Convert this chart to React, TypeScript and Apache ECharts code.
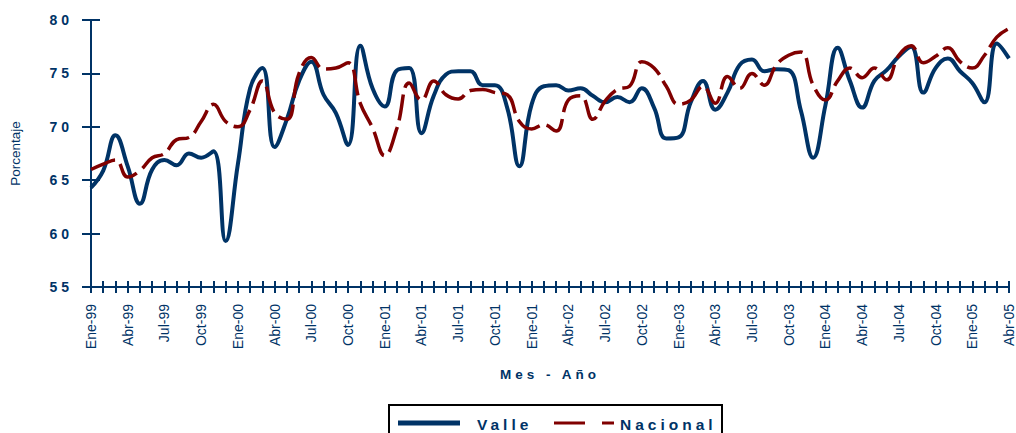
import React, { useEffect, useRef } from "react";
import * as echarts from "echarts";

const monthNames = ["Ene", "Feb", "Mar", "Abr", "May", "Jun", "Jul", "Ago", "Sep", "Oct", "Nov", "Dic"];
const yearSuffixes = ["99", "00", "01", "02", "03", "04", "05"];
const monthCount = 76; // Ene-99 .. Abr-05

const categories: string[] = [];
for (const y of yearSuffixes) {
  for (const m of monthNames) {
    if (categories.length < monthCount) categories.push(`${m}-${y}`);
  }
}

// Tick labels as printed on the reference (every third month)
const tickLabels = [
  "Ene-99", "Abr-99", "Jul-99", "Oct-99",
  "Ene-00", "Abr-00", "Jul-00", "Oct-00",
  "Ene-01", "Abr-01", "Jul-01", "Oct-01",
  "Ene-01", "Abr-02", "Jul-02", "Oct-02",
  "Ene-03", "Abr-03", "Jul-03", "Oct-03",
  "Ene-04", "Abr-04", "Jul-04", "Oct-04",
  "Ene-05", "Abr-05",
];

const valle = [
  64.3, 65.9, 69.2, 66.3, 62.8, 66.0, 66.9, 66.4, 67.5, 67.1, 67.7, 59.3,
  66.5, 73.6, 75.5, 68.1, 70.7, 74.3, 76.1, 73.0, 71.3, 68.3, 77.6, 73.6,
  71.9, 75.3, 75.5, 69.4, 72.9, 74.9, 75.2, 75.2, 73.9, 73.9, 71.8, 66.3,
  72.1, 73.8, 73.9, 73.4, 73.6, 72.9, 72.3, 72.8, 72.3, 73.6, 71.8, 68.9,
  69.0, 72.3, 74.3, 71.6, 73.2, 75.8, 76.3, 75.2, 75.4, 75.3, 71.5, 67.1,
  72.0, 77.4, 74.3, 71.8, 74.3, 75.3, 76.6, 77.5, 73.2, 75.5, 76.4, 75.2,
  74.1, 72.3, 77.8, 76.4,
];

const nacional = [
  66.0, 66.5, 66.9, 65.3, 65.9, 67.1, 67.5, 68.8, 69.0, 70.5, 72.1, 70.5,
  70.0, 71.6, 74.3, 71.3, 70.7, 75.0, 76.5, 75.4, 75.5, 76.0, 72.2, 69.9,
  67.3, 69.9, 74.1, 72.5, 74.3, 73.0, 72.6, 73.4, 73.5, 73.2, 73.0, 70.5,
  69.8, 70.2, 69.6, 72.5, 72.9, 70.7, 72.4, 73.5, 73.8, 76.1, 75.5, 73.8,
  72.1, 72.5, 73.8, 72.2, 74.7, 73.6, 75.0, 73.9, 75.8, 76.7, 77.0, 73.9,
  72.5, 74.3, 75.5, 74.6, 75.5, 74.4, 76.7, 77.6, 76.0, 76.6, 77.4, 76.1,
  75.5, 76.7, 78.4, 79.2,
];

const NAVY = "#003366";
const MAROON = "#800000";
const FONT = "'Liberation Sans', Arial, sans-serif";

export default function App() {
  const ref = useRef<HTMLDivElement>(null);

  useEffect(() => {
    if (!ref.current) return;
    const chart = echarts.init(ref.current, undefined, { renderer: "svg" });
    const tickLine = { color: NAVY, width: 2 };
    chart.setOption({
      animation: false,
      backgroundColor: "#ffffff",
      grid: { left: 90, right: 1, top: 20, bottom: 146, containLabel: false },
      xAxis: [
        {
          type: "category",
          data: categories,
          boundaryGap: false,
          position: "bottom",
          axisLine: { show: true, onZero: false, lineStyle: { color: NAVY, width: 2 } },
          axisTick: { show: true, interval: 0, length: 6, lineStyle: tickLine },
          axisLabel: {
            interval: 2,
            rotate: 90,
            margin: 17,
            color: NAVY,
            fontSize: 14,
            fontFamily: FONT,
            padding: [0, 0, 6, 0],
            formatter: (_v: string, i: number) => tickLabels[Math.round(i / 3)] ?? _v,
          },
          splitLine: { show: false },
          name: "Mes - Año",
          nameLocation: "middle",
          nameGap: 80,
          nameTextStyle: { color: NAVY, fontSize: 13.5, fontWeight: "bold", fontFamily: FONT },
        },
        {
          type: "category",
          data: categories,
          boundaryGap: false,
          position: "bottom",
          axisLine: { show: false, onZero: false },
          axisTick: { show: true, inside: true, interval: 0, length: 6, lineStyle: tickLine },
          axisLabel: { show: false },
          splitLine: { show: false },
        },
      ],
      yAxis: [
        {
          type: "value",
          min: 55,
          max: 80,
          interval: 5,
          position: "left",
          axisLine: { show: true, onZero: false, lineStyle: { color: NAVY, width: 2 } },
          axisTick: { show: true, length: 9, lineStyle: tickLine },
          axisLabel: { margin: 18, color: NAVY, fontSize: 14, fontWeight: "bold", fontFamily: FONT },
          splitLine: { show: false },
          name: "Porcentaje",
          nameLocation: "middle",
          nameGap: 69,
          nameTextStyle: { color: NAVY, fontSize: 13.5, fontFamily: FONT },
        },
        {
          type: "value",
          min: 55,
          max: 80,
          interval: 5,
          position: "left",
          axisLine: { show: false, onZero: false },
          axisTick: { show: true, inside: true, length: 9, lineStyle: tickLine },
          axisLabel: { show: false },
          splitLine: { show: false },
        },
      ],
      series: [
        {
          name: "Valle",
          type: "line",
          data: valle,
          smooth: 0.45,
          symbol: "none",
          lineStyle: { color: NAVY, width: 4 },
          itemStyle: { color: NAVY },
          z: 2,
        },
        {
          name: "Nacional",
          type: "line",
          data: nacional,
          smooth: 0.45,
          symbol: "none",
          lineStyle: { color: MAROON, width: 3.5, type: [26, 7] },
          itemStyle: { color: MAROON },
          z: 3,
        },
      ],
      graphic: [
        {
          type: "rect",
          shape: { x: 389, y: 405, width: 333, height: 40 },
          style: { fill: "#ffffff", stroke: "#000000", lineWidth: 2 },
          z: 100,
        },
        {
          type: "line",
          shape: { x1: 398, y1: 423, x2: 460, y2: 423 },
          style: { stroke: NAVY, lineWidth: 5 },
          z: 101,
        },
        {
          type: "text",
          x: 477,
          y: 424,
          style: {
            text: "Valle",
            fill: NAVY,
            fontSize: 15.5,
            fontWeight: "bold",
            fontFamily: FONT,
            align: "left",
            verticalAlign: "middle",
          },
          z: 101,
        },
        {
          type: "line",
          shape: { x1: 554, y1: 423, x2: 614, y2: 423 },
          style: { stroke: MAROON, lineWidth: 3, lineDash: [31, 17] },
          z: 101,
        },
        {
          type: "text",
          x: 620,
          y: 424,
          style: {
            text: "Nacional",
            fill: NAVY,
            fontSize: 15.5,
            fontWeight: "bold",
            fontFamily: FONT,
            align: "left",
            verticalAlign: "middle",
          },
          z: 101,
        },
      ],
    });
    return () => chart.dispose();
  }, []);

  return (
    <>
      <style>{`.chart-root text[style*="bold"]{letter-spacing:4px;}`}</style>
      <div
        ref={ref}
        className="chart-root"
        style={{ position: "absolute", left: 0, top: 0, width: 1016, height: 433, background: "#fff" }}
      />
    </>
  );
}
